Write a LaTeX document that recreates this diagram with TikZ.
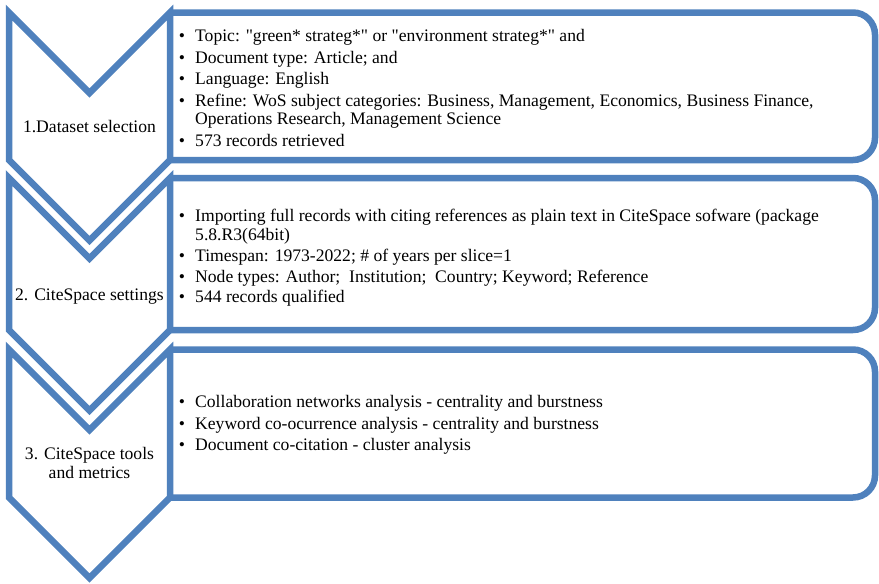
\documentclass[tikz,border=0pt]{standalone}
\usepackage{fontspec}
\setmainfont{Liberation Serif}
\definecolor{flowblue}{RGB}{79,129,189}

% one bulleted line: name, baseline, text
\newcommand\bulletline[3]{%
  \node[bul] (#1-dot) at (182,#2) {•};
  \node[txt] (#1) at (195,#2) {#3};}
% continuation line of a bullet
\newcommand\contline[3]{\node[txt] (#1) at (195,#2) {#3};}
% straight double quote
\newcommand\sq{\textquotedbl}

% chevron: top y, bottom y of the straight sides
\newcommand\chevron[2]{%
  \draw[outline] (9,#1) -- (89.5,#1+80.5) -- (170,#1) -- (170,#2)
     -- (89.5,#2+80.5) -- (9,#2) -- cycle;}
% panel with rounded right corners, open on the chevron side
\newcommand\panel[2]{%
  \draw[outline,rounded corners=22pt] (170,#1) -- (875,#1) -- (875,#2) -- (170,#2);}

\begin{document}
\begin{tikzpicture}[x=1pt,y=-1pt,
  outline/.style={draw=flowblue,line width=6.5pt,fill=white},
  txt/.style={inner sep=0pt,anchor=base west,font=\fontsize{17.6}{18.5}\selectfont},
  bul/.style={inner sep=0pt,anchor=base,font=\fontsize{17.6}{18.5}\selectfont},
  lbl/.style={inner sep=0pt,anchor=base,font=\fontsize{17.6}{18.5}\selectfont}]
\useasboundingbox (0,0) rectangle (879,584);

% panels
\panel{12.5}{160}
\panel{178}{330}
\panel{349.5}{497.5}

% chevrons
\chevron{12.5}{160}
\chevron{178}{330}
\chevron{349.5}{497.5}

% step labels
\node[lbl] (step1) at (89.5,132.7) {1.Dataset selection};
\node[lbl] (step2) at (89.5,300) {2. CiteSpace settings};
\node[lbl] (step3a) at (89.5,459.3) {3. CiteSpace tools};
\node[lbl] (step3b) at (89.5,478.3) {and metrics};

% dataset selection
\bulletline{d1}{41.7}{Topic: \sq green* strateg*\sq{} or \sq environment strateg*\sq{} and}
\bulletline{d2}{63.2}{Document type: Article; and}
\bulletline{d3}{84.7}{Language: English}
\bulletline{d4}{106.2}{Refine: WoS subject categories: Business, Management, Economics, Business Finance,}
\contline{d4b}{124.5}{Operations Research, Management Science}
\bulletline{d5}{146.2}{573 records retrieved}

% CiteSpace settings
\bulletline{s1}{221.7}{Importing full records with citing references as plain text in CiteSpace sofware (package}
\contline{s1b}{240}{5.8.R3(64bit)}
\bulletline{s2}{261.5}{Timespan: 1973-2022; \# of years per slice=1}
\bulletline{s3}{282.3}{Node types: Author;\ \ Institution;\ \ Country; Keyword; Reference}
\bulletline{s4}{302.8}{544 records qualified}

% tools and metrics
\bulletline{t1}{407.7}{Collaboration networks analysis - centrality and burstness}
\bulletline{t2}{429}{Keyword co-ocurrence analysis - centrality and burstness}
\bulletline{t3}{450.3}{Document co-citation - cluster analysis}
\end{tikzpicture}
\end{document}
